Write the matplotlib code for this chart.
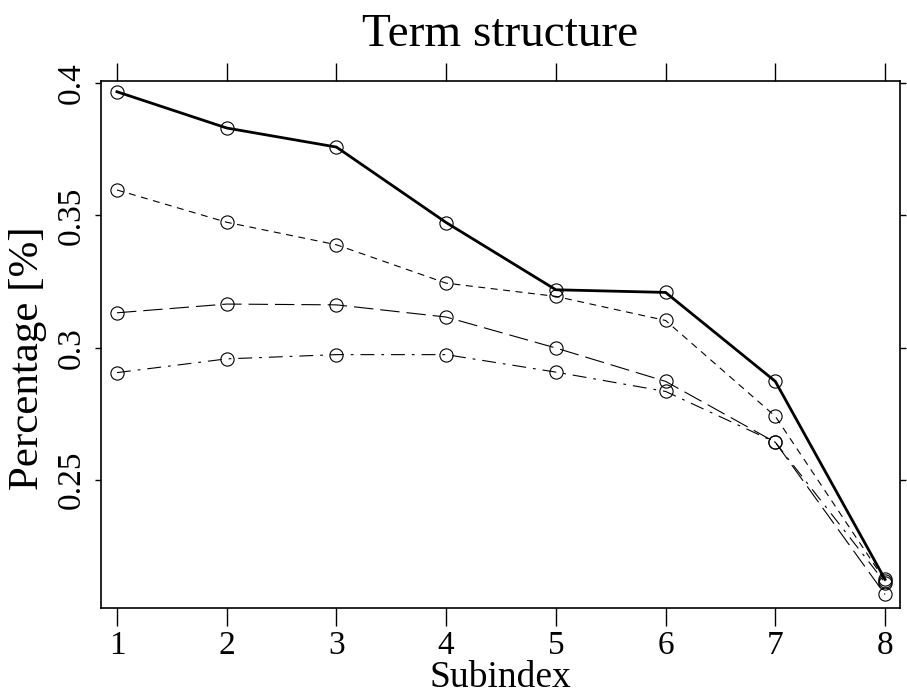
import matplotlib
matplotlib.use("Agg")
import matplotlib.pyplot as plt

plt.rcParams['font.family'] = ['Liberation Serif', 'DejaVu Serif']
plt.rcParams['lines.scale_dashes'] = False

subindex = [1, 2, 3, 4, 5, 6, 7, 8]
series_solid = [0.3967, 0.3830, 0.3758, 0.3473, 0.3219, 0.3209, 0.2873, 0.2125]
series_dashed = [0.3596, 0.3474, 0.3389, 0.3244, 0.3194, 0.3103, 0.2741, 0.2120]
series_longdash = [0.3132, 0.3165, 0.3162, 0.3116, 0.2999, 0.2873, 0.2643, 0.2068]
series_dotdash = [0.2906, 0.2958, 0.2974, 0.2974, 0.2908, 0.2835, 0.2643, 0.2113]
xticks = [1, 2, 3, 4, 5, 6, 7, 8]
yticks = [0.25, 0.30, 0.35, 0.40]
ytick_labels = ["0.25", "0.3", "0.35", "0.4"]

fig = plt.figure(figsize=(9.07, 6.98), dpi=100)
ax = fig.add_axes([101/907, 1-608/698, (900-101)/907, (608-81)/698])

mk = dict(marker='o', markersize=9.5, markerfacecolor='none',
          markeredgecolor='black', markeredgewidth=0.8, color='black')
ax.plot(subindex, series_dashed, linestyle=(0, (5, 4)), linewidth=0.8, **mk)
ax.plot(subindex, series_longdash, linestyle=(0, (14, 5)), linewidth=0.8, **mk)
ax.plot(subindex, series_dotdash, linestyle=(0, (10, 5, 2, 5)), linewidth=0.8, **mk)
ax.plot(subindex, series_solid, linestyle='-', linewidth=2.0, **mk)

ax.set_xlim(1 - 16/110, 8 + 15/110)
ax.set_ylim(0.25 - 128/2650, 0.40 + 2/2650)

ax.set_xticks(xticks)
ax.set_xticklabels([str(v) for v in xticks], fontsize=24)
ax.set_yticks(yticks)
ax.set_yticklabels(ytick_labels, fontsize=24, rotation=90, va='center')

ax.tick_params(axis='x', which='both', direction='out', length=13, width=1.0,
               top=True, bottom=True, labeltop=False, pad=3)
ax.tick_params(axis='y', which='both', direction='out', length=4, width=1.0,
               left=True, right=True, labelright=False, pad=6)

for s in ax.spines.values():
    s.set_linewidth(1.2)

ax.set_title("Term structure", fontsize=34, pad=25)
ax.set_xlabel("Subindex", fontsize=27, labelpad=0)
ax.set_ylabel("Percentage [%]", fontsize=31, va='center')
ax.yaxis.set_label_coords((28 - 101) / 799, (608 - 358) / 527)

fig.savefig("out.png", dpi=100)
